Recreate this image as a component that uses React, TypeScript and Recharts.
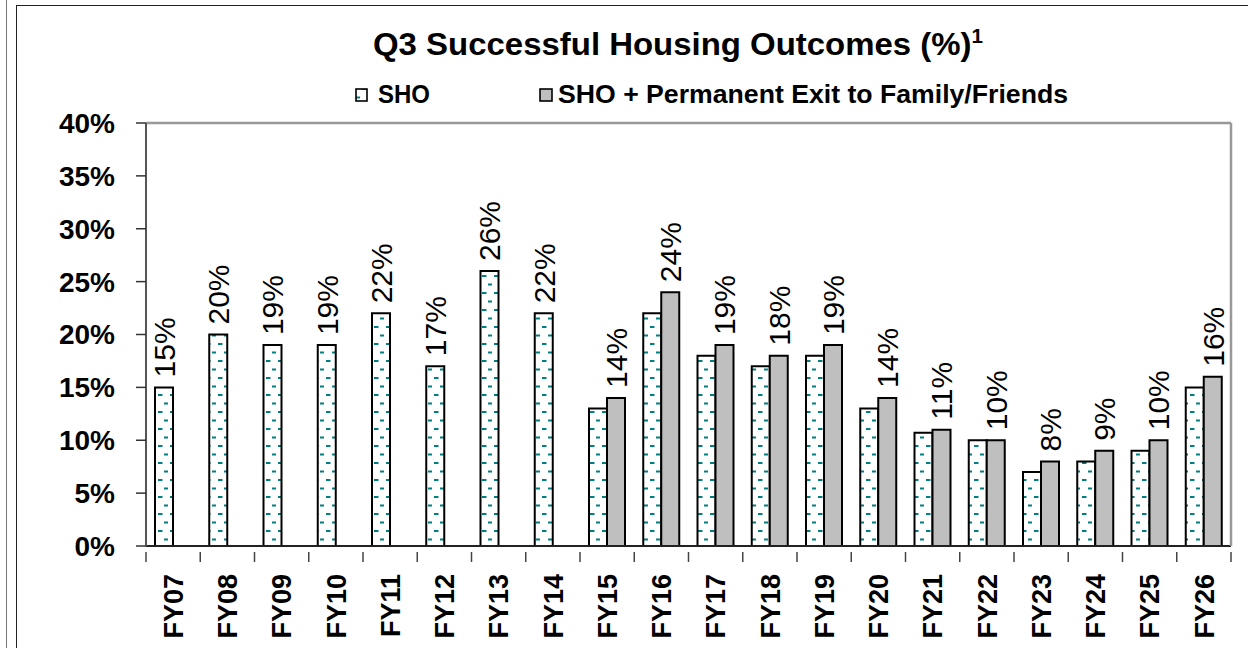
import React from 'react';
import { BarChart, Bar, XAxis, YAxis, CartesianGrid, LabelList, ReferenceLine } from 'recharts';

const categories = ['FY07', 'FY08', 'FY09', 'FY10', 'FY11', 'FY12', 'FY13', 'FY14', 'FY15', 'FY16', 'FY17', 'FY18', 'FY19', 'FY20', 'FY21', 'FY22', 'FY23', 'FY24', 'FY25', 'FY26'];
const shoValues = [15, 20, 19, 19, 22, 17, 26, 22, 13, 22, 18, 17, 18, 13, 10.7, 10, 7, 8, 9, 15];
const shoPlusValues: (number | null)[] = [null, null, null, null, null, null, null, null, 14, 24, 19, 18, 19, 14, 11, 10, 8, 9, 10, 16];
const yTicks = [0, 5, 10, 15, 20, 25, 30, 35, 40];

const seriesNames = ['SHO', 'SHO + Permanent Exit to Family/Friends'];
const titleText = 'Q3 Successful Housing Outcomes (%)';

const data = categories.map((c, i) => ({
  name: c,
  sho: shoValues[i],
  shoPlus: shoPlusValues[i],
  shoLabel: shoPlusValues[i] == null ? shoValues[i] : null,
  shoPlusLabel: shoPlusValues[i],
}));

const FONT = '"Liberation Sans", Arial, sans-serif';

const RotLabel = (props: any) => {
  const { x, y, width, value } = props;
  if (value == null) return null;
  return (
    <text
      transform={`translate(${x + width / 2},${y - 10}) rotate(-90)`}
      textAnchor="start"
      dy="0.36em"
      fontFamily={FONT}
      fontSize={30}
      fill="#000"
    >
      {`${Math.round(value)}%`}
    </text>
  );
};

const XTick = (props: any) => {
  const { x, y, payload, index } = props;
  const off = payload.offset || 0;
  const last = index === categories.length - 1;
  return (
    <g>
      <line x1={x - off} x2={x - off} y1={y - 2} y2={y + 8} stroke="#444" strokeWidth={1.5} />
      {last && <line x1={x + off} x2={x + off} y1={y - 2} y2={y + 8} stroke="#444" strokeWidth={1.5} />}
      <text
        transform={`translate(${x},${y + 20}) rotate(-90)`}
        textAnchor="end"
        dy="0.36em"
        fontFamily={FONT}
        fontWeight="bold"
        fontSize={27}
        fill="#000"
      >
        {payload.value}
      </text>
    </g>
  );
};

export default function App() {
  return (
    <div style={{ position: 'absolute', left: 0, top: 0, width: 1248, height: 648, background: '#fff', overflow: 'hidden' }}>
      <div style={{ position: 'absolute', left: 6, top: 0, width: 1, height: 648, background: '#777' }} />
      <div style={{ position: 'absolute', left: 16, top: 5, width: 1240, height: 660, border: '1.5px solid #222', boxSizing: 'border-box' }} />
      <svg width={1248} height={120} style={{ position: 'absolute', left: 0, top: 0 }}>
        <defs>
          <pattern id="dashPat" patternUnits="userSpaceOnUse" width={12} height={17}>
            <rect x={0} y={0} width={12} height={17} fill="#fff" />
            <rect x={2} y={3} width={4.5} height={2} fill="#008080" />
            <rect x={8} y={11.5} width={4.5} height={2} fill="#008080" />
          </pattern>
        </defs>
        <text
          x={373}
          y={55}
          fontFamily={FONT}
          fontWeight="bold"
          fontSize={32}
          fill="#000"
          textLength={610}
          lengthAdjust="spacingAndGlyphs"
        >
          {titleText}
          <tspan fontSize={20} dy={-12}>1</tspan>
        </text>
        <rect x={356} y={89} width={11} height={12} fill="url(#dashPat)" stroke="#000" strokeWidth={1.6} />
        <text x={378} y={103} fontFamily={FONT} fontWeight="bold" fontSize={25} fill="#000" textLength={52} lengthAdjust="spacingAndGlyphs">
          {seriesNames[0]}
        </text>
        <rect x={540} y={89} width={12} height={12} fill="#bfbfbf" stroke="#000" strokeWidth={1.6} />
        <text x={558} y={103} fontFamily={FONT} fontWeight="bold" fontSize={25} fill="#000" textLength={510} lengthAdjust="spacingAndGlyphs">
          {seriesNames[1]}
        </text>
      </svg>
      <div style={{ position: 'absolute', left: 0, top: 0 }}>
        <BarChart
          width={1248}
          height={648}
          data={data}
          margin={{ top: 123, right: 16, bottom: 0, left: 0 }}
          barSize={18}
          barGap={0}
        >
          <CartesianGrid vertical={false} stroke="#a8a8a8" strokeWidth={1.2} />
          <XAxis
            dataKey="name"
            height={102}
            tickLine={false}
            axisLine={{ stroke: '#222', strokeWidth: 2 }}
            tick={<XTick />}
            interval={0}
          />
          <YAxis
            yAxisId="left"
            domain={[0, 40]}
            ticks={yTicks}
            width={146}
            tickSize={10}
            tickMargin={21}
            tickFormatter={(v: number) => `${v}%`}
            axisLine={{ stroke: '#555', strokeWidth: 2 }}
            tickLine={{ stroke: '#333', strokeWidth: 1.5 }}
            tick={{ fontFamily: FONT, fontWeight: 'bold', fontSize: 28, fill: '#000' }}
          />
          <YAxis
            yAxisId="right"
            orientation="right"
            domain={[0, 40]}
            width={1}
            tick={false}
            tickLine={false}
            axisLine={{ stroke: '#999', strokeWidth: 2.5 }}
          />
          <ReferenceLine yAxisId="left" y={40} stroke="#999" strokeWidth={2.5} />
          <Bar yAxisId="left" dataKey="sho" fill="url(#dashPat)" stroke="#000" strokeWidth={2} isAnimationActive={false}>
            <LabelList dataKey="shoLabel" content={<RotLabel />} />
          </Bar>
          <Bar yAxisId="left" dataKey="shoPlus" fill="#bfbfbf" stroke="#000" strokeWidth={2} isAnimationActive={false}>
            <LabelList dataKey="shoPlusLabel" content={<RotLabel />} />
          </Bar>
        </BarChart>
      </div>
    </div>
  );
}
